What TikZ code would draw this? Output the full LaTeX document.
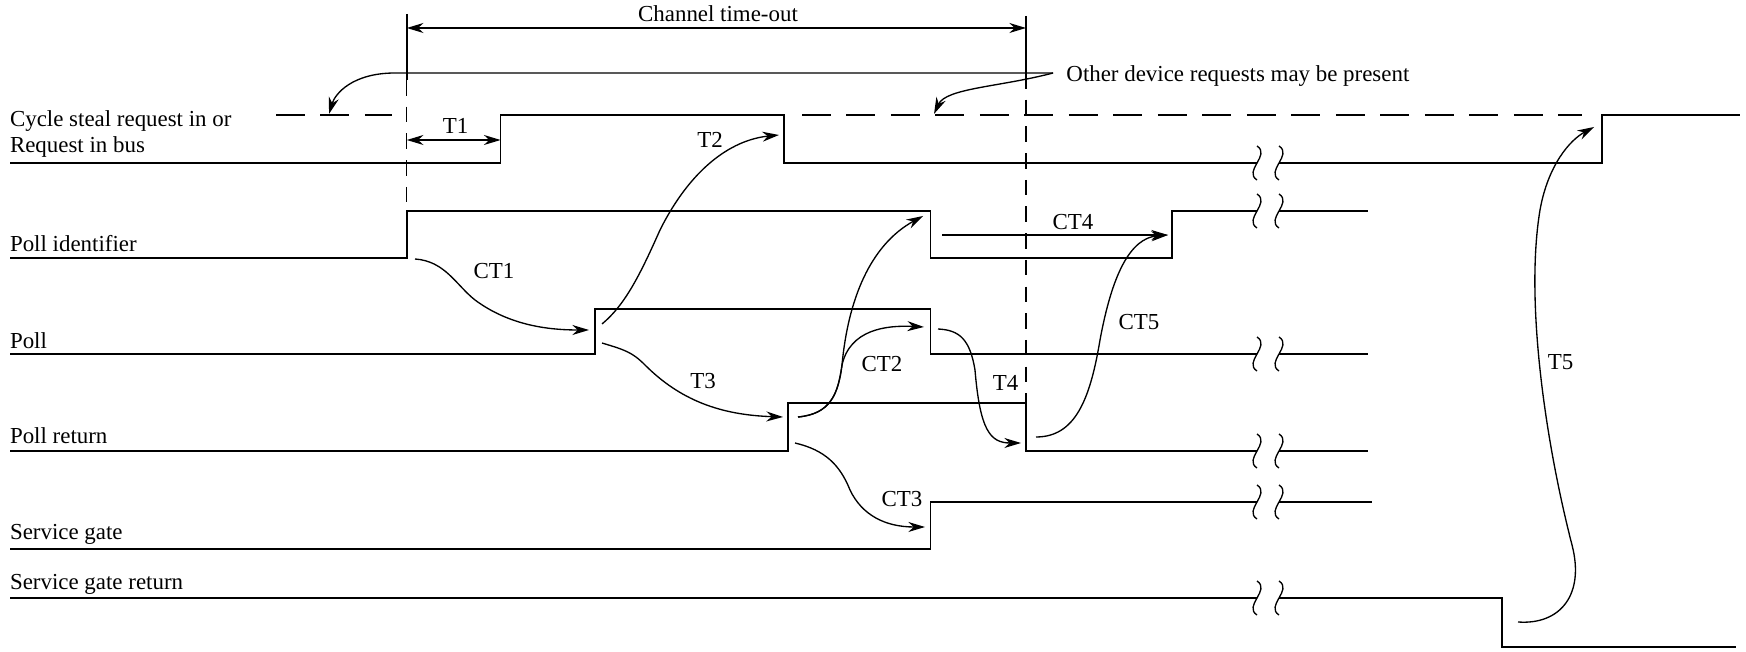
\documentclass[tikz,border=0pt]{standalone}
\usepackage{fontspec}
\setmainfont{Liberation Serif}
\usetikzlibrary{arrows.meta}

\begin{document}
\begin{tikzpicture}[x=0.158mm, y=-0.158mm, >={Stealth[length=7.5pt,width=4.5pt]},
  font=\fontsize{10.3}{12.4}\selectfont,
  sig/.style={line width=0.75pt},
  guide/.style={line width=0.6pt, dash pattern=on 7pt off 5pt},
  idle/.style={line width=0.7pt, dash pattern=on 13pt off 7pt},
  tm/.style={->, line width=0.6pt},
  signame/.style={anchor=base west, inner sep=0pt},
  tlbl/.style={inner sep=0pt}]

\useasboundingbox (0,0) rectangle (1746,652);

% --- Signal names ---
\node[signame] (ncs) at (9.6,127) {Cycle steal request in or};
\node[signame] (nrb) at (9.6,153) {Request in bus};
\node[signame] (npi) at (9.6,251.7) {Poll identifier};
\node[signame] (npo) at (9.6,348.3) {Poll};
\node[signame] (npr) at (9.6,443.3) {Poll return};
\node[signame] (nsg) at (9.6,539.3) {Service gate};
\node[signame] (nsr) at (9.6,589.3) {Service gate return};

% --- Waveforms ---
\draw[sig] (10,163) -- (500.6,163) -- (500.6,115) -- (784,115) -- (784,163) -- (1257,163);
\draw[sig] (1279,163) -- (1602,163) -- (1602,115) -- (1740,115);
\draw[idle] (276,115) -- (392,115);
\draw[idle] (802,115) -- (1582,115);
\draw[sig] (10,258) -- (406.8,258) -- (406.8,211) -- (930.5,211) -- (930.5,258) -- (1172,258) -- (1172,211) -- (1257,211);
\draw[sig] (1279,211) -- (1368,211);
\draw[sig] (10,354) -- (595,354) -- (595,309) -- (930.5,309) -- (930.5,354) -- (1257,354);
\draw[sig] (1279,354) -- (1368,354);
\draw[sig] (10,451) -- (788,451) -- (788,403) -- (1026,403) -- (1026,451) -- (1257,451);
\draw[sig] (1279,451) -- (1368,451);
\draw[sig] (10,549) -- (930.5,549) -- (930.5,502) -- (1257,502);
\draw[sig] (1279,502) -- (1372,502);
\draw[sig] (10,598) -- (1257,598);
\draw[sig] (1279,598) -- (1502,598) -- (1502,647) -- (1736,647);

% --- Breaks ---
\foreach \y in {163,211,354,451,502,598}
  \foreach \x in {1257,1279}
    \draw[line width=0.6pt] (\x,\y-17) .. controls (\x+14,\y-8) and (\x-14,\y+8) .. (\x,\y+17);

% --- Channel time-out ---
\coordinate (v1) at (406.8,28);
\coordinate (v2) at (1026,28);
\draw[sig] (406.8,14) -- (406.8,80);
\draw[guide] (406.8,80) -- (406.8,211);
\draw[sig] (1026,16) -- (1026,73);
\draw[guide] (1026,73) -- (1026,403);
\draw[<->, line width=0.6pt] (v1) -- (v2);
\node[anchor=base, inner sep=0pt] (cto) at (718,21.7) {Channel time-out};

% --- Other device requests ---
\node[anchor=base west, inner sep=0pt] (odr) at (1066,81.7) {Other device requests may be present};
\coordinate (od) at (1053,73);
\coordinate (odl) at (329,114);
\coordinate (odr2) at (934,114);
\draw[tm] (od) -- (395,73) .. controls (352,73) and (335,94) .. (odl);
\draw[tm] (od) .. controls (1000,87) and (946,88) .. (odr2);

% --- T1 ---
\coordinate (t1a) at (406.8,140);
\coordinate (t1b) at (500.6,140);
\draw[<->, line width=0.6pt] (t1a) -- (t1b);
\node[tlbl] (t1) at (455.5,126) {T1};

% --- Timing arrows ---
\coordinate (ct1s) at (415,259);   \coordinate (ct1e) at (589,330);
\coordinate (t2s) at (602,324);    \coordinate (t2e) at (779,135);
\coordinate (t3s) at (602,343);    \coordinate (t3e) at (783,417);
\coordinate (ct2s) at (798,417);   \coordinate (ct2e) at (924,327);
\coordinate (ct2f) at (923,216);
\coordinate (ct3s) at (795,443);   \coordinate (ct3e) at (925,527);
\coordinate (ct4s) at (942,235);   \coordinate (ct4e) at (1168,235);
\coordinate (t4s) at (938,329);    \coordinate (t4e) at (1021,443);
\coordinate (ct5s) at (1036,437);
\coordinate (t5s) at (1518,622);   \coordinate (t5e) at (1594,127);

\draw[tm] (ct1s) .. controls (445,261) and (456,285) .. (475,300) .. controls (510,326) and (550,330) .. (ct1e);
\draw[tm] (t2s) .. controls (625,305) and (640,275) .. (660,230) .. controls (690,170) and (730,140) .. (t2e);
\draw[tm] (t3s) .. controls (625,350) and (632,352) .. (645,365) .. controls (680,400) and (720,415) .. (t3e);
\draw[tm] (ct2s) .. controls (830,414) and (838,395) .. (842,365) .. controls (850,330) and (885,325) .. (ct2e);
\draw[tm] (ct2s) .. controls (830,414) and (838,395) .. (842,365) .. controls (848,300) and (870,245) .. (ct2f);
\draw[tm] (ct3s) .. controls (825,450) and (840,465) .. (850,490) .. controls (862,515) and (885,527) .. (ct3e);
\draw[tm] (ct4s) -- (ct4e);
\draw[tm] (t4s) .. controls (960,330) and (970,340) .. (975,370) .. controls (980,430) and (990,443) .. (t4e);
\draw[tm] (ct5s) .. controls (1075,437) and (1090,400) .. (1100,340) .. controls (1112,275) and (1130,238) .. (ct4e);
\draw[tm] (t5s) .. controls (1560,625) and (1585,595) .. (1572,545) .. controls (1545,440) and (1525,300) .. (1540,210) .. controls (1548,165) and (1570,140) .. (t5e);

% --- Labels ---
\node[tlbl] (t2) at (710,140) {T2};
\node[tlbl] (t3) at (703,381) {T3};
\node[tlbl] (t4) at (1005.5,383) {T4};
\node[tlbl] (t5) at (1560.5,362) {T5};
\node[tlbl] (ct1) at (494,271) {CT1};
\node[tlbl] (ct2) at (882,364) {CT2};
\node[tlbl] (ct3) at (902,499) {CT3};
\node[tlbl] (ct4) at (1073,222) {CT4};
\node[tlbl] (ct5) at (1139,322) {CT5};

\end{tikzpicture}
\end{document}
